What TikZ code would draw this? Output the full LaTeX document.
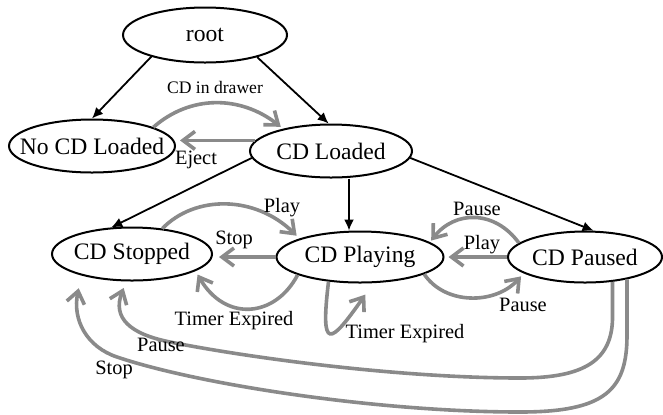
\documentclass[tikz,border=0pt]{standalone}
\usepackage{fontspec}
\setmainfont{Liberation Serif}
\usetikzlibrary{shapes.geometric,arrows.meta}

\begin{document}
\begin{tikzpicture}[
    x=0.5pt, y=-0.5pt,
    state/.style={ellipse,draw=black,line width=1pt,minimum height=26.5pt,inner sep=0pt,
        label={[font=\fontsize{11.8}{14}\selectfont]center:#1}},
    arrow/.style={-{Latex[length=5.5pt,width=5pt]}, line width=0.9pt},
    event/.style={-{Straight Barb[length=6pt,width=9pt]}, line width=1.8pt, draw=black!46},
    lbl/.style={font=\fontsize{10.2}{12}\selectfont, inner sep=0pt}
]
\useasboundingbox (0,0) rectangle (663,414);

% States
\node[state=root, minimum width=82pt, minimum height=27.5pt] (root) at (205,35) {};
\node[state=No CD Loaded, minimum width=83pt] (nocd) at (92,146) {};
\node[state=CD Loaded, minimum width=81pt] (cdl) at (331,151) {};
\node[state=CD Stopped, minimum width=80pt] (stopped) at (132,254) {};
\node[state=CD Playing, minimum width=83.5pt, minimum height=25.5pt] (playing) at (360,257) {};
\node[state=CD Paused, minimum width=77pt, minimum height=25.5pt] (paused) at (585,257) {};

% Tree edges
\draw[arrow] (root.202) -- (nocd.north);
\draw[arrow] (root.337) -- (cdl.95);
\draw[arrow] (cdl.185) -- (stopped.128);
\draw[arrow] ([xshift=9pt]cdl.south) -- ([xshift=9pt]cdl.south |- playing.north);
\draw[arrow] (cdl.355) -- (paused.72);

% Loading
\draw[event, shorten >=1.5pt] (nocd.17) .. controls (190,95) and (240,95) .. (cdl.155);
\node[lbl, font=\fontsize{8.8}{10}\selectfont] (ldrawer) at (215,87) {CD in drawer};
\draw[event, shorten >=2pt] (cdl.172) -- (cdl.172 -| nocd.east);
\node[lbl] (leject) at (196,160) {Eject};

% Stopped and playing
\draw[event, shorten >=2pt] (stopped.40) .. controls (195,195) and (255,195) .. (playing.163);
\node[lbl] (lplay) at (282,208) {Play};
\draw[event, shorten >=3pt] (playing.west) -- (playing.west -| stopped.east);
\node[lbl] (lstop) at (234,240) {Stop};
\draw[event, shorten >=2pt] (playing.196) .. controls (275,318) and (225,322) .. (stopped.345);
\node[lbl] (ltimer) at (234,321) {Timer Expired};
\draw[event, shorten >=7pt] (playing.218) .. controls (320,352) and (330,345) .. (playing.297);
\node[lbl] (lloop) at (405,334) {Timer Expired};

% Playing and paused
\draw[event, shorten >=1pt] (paused.168) .. controls (495,210) and (455,210) .. (playing.12);
\node[lbl] (lpause) at (477,209) {Pause};
\draw[event, shorten >=2pt] (paused.west) -- (playing.east);
\node[lbl] (lresume) at (482,245) {Play};
\draw[event, shorten >=2pt] (playing.345) .. controls (445,305) and (495,305) .. (paused.195);
\node[lbl] (lhold) at (523,305) {Pause};

% Paused back to stopped
\draw[event, shorten >=3.5pt] (paused.318) -- ++(0,36) .. controls (612,360) and (585,378) .. (520,378)
    .. controls (400,378) and (250,358) .. (170,342) .. controls (130,334) and (112,318) .. (stopped.258);
\node[lbl] (lback) at (161,345) {Pause};
\draw[event, shorten >=6.5pt] (paused.332) -- ++(0,56) .. controls (627,390) and (605,412) .. (520,412)
    .. controls (380,412) and (200,385) .. (117,357) .. controls (87,347) and (72,320) .. (stopped.203);
\node[lbl] (lhalt) at (114,370) {Stop};

\end{tikzpicture}
\end{document}
